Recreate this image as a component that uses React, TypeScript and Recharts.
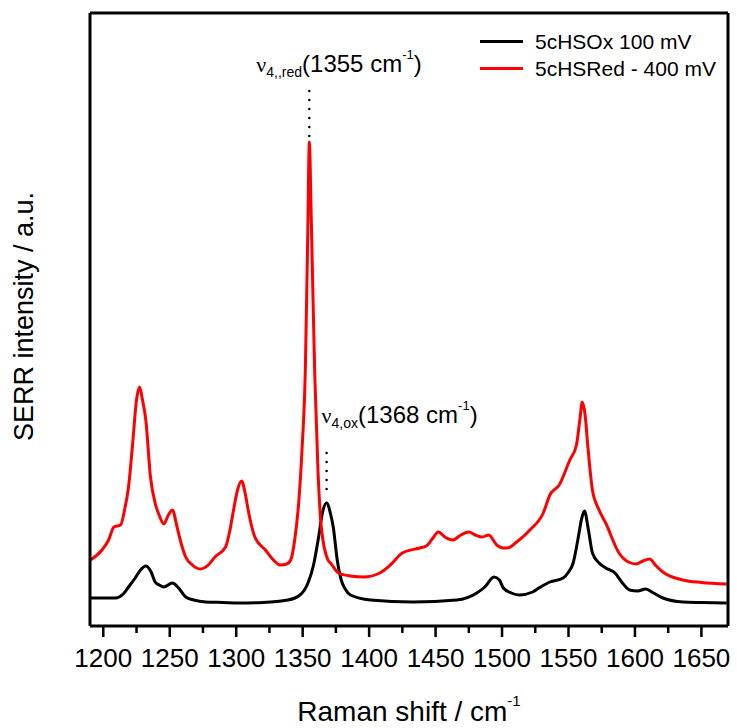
import React from 'react';
import { LineChart, Line, XAxis, YAxis, ReferenceLine, Legend } from 'recharts';

const FONT = '"Liberation Sans", Arial, sans-serif';

// Raman shift (cm-1) and intensity (a.u.)
const oxShift = [
  1190, 1200, 1209, 1215, 1219, 1224, 1228, 1232, 1236, 1239, 1242, 1245.5, 1252, 1256, 1262, 1268, 1277,
  1290, 1302, 1320, 1339, 1348, 1354, 1358, 1362, 1365, 1368, 1371, 1373, 1376, 1379, 1382, 1386, 1401,
  1433, 1466, 1481, 1487, 1494, 1498, 1501, 1507, 1513, 1523, 1529, 1536, 1546, 1550, 1553.5, 1557, 1560,
  1562, 1565, 1568, 1573, 1578, 1585, 1590, 1596, 1602, 1608, 1614, 1621, 1636, 1650, 1669,
];
const oxIntensity = [
  28, 28, 28, 32, 39, 48, 56, 60, 54, 44, 41, 39, 43, 39, 29, 26, 24,
  23.5, 23, 23.5, 26, 31, 43, 60, 89, 114, 123, 112, 99, 66, 46, 37, 31, 26,
  24, 26, 33, 39, 49, 46, 38, 33, 31, 34, 39, 44, 48, 54, 63, 86, 108,
  115, 96, 73, 63, 58, 53, 44, 36, 35, 37, 33, 28, 24, 23.5, 23,
];

const redShift = [
  1189, 1199, 1204, 1208, 1213, 1216, 1219, 1222, 1225, 1227.3, 1229.5, 1232, 1235.5, 1239, 1242, 1245.5,
  1249, 1252, 1255.5, 1258.5, 1262, 1267, 1273, 1279, 1284, 1292, 1295, 1298, 1301, 1304, 1307, 1309,
  1314, 1322, 1328, 1333, 1338, 1341, 1344, 1347, 1349.5, 1352, 1354, 1355, 1356.5, 1359, 1361.5, 1364,
  1369, 1371, 1377, 1386, 1396, 1408, 1416, 1425, 1438, 1443, 1448, 1452, 1457, 1463, 1469, 1475, 1480,
  1485, 1490, 1496, 1501, 1504, 1511, 1521, 1531, 1536, 1543, 1551, 1556, 1558.5, 1560.4, 1562.5, 1564.6,
  1568, 1573, 1578, 1588, 1595, 1601, 1606, 1611, 1616, 1621, 1636, 1650, 1669,
];
const redIntensity = [
  65, 76, 86, 99, 101, 116, 139, 181, 226, 239, 226, 206, 149, 123, 111, 102,
  111, 116, 99, 83, 69, 61, 57, 61, 69, 79, 94, 116, 136, 145, 131, 116,
  89, 76, 66, 61, 62, 66, 86, 123, 176, 256, 406, 484, 406, 256, 156, 99,
  66, 63, 53, 50, 49, 53, 61, 73, 78, 80, 88, 94, 89, 86, 91, 94, 91,
  89, 91, 81, 78, 78, 84, 96, 113, 131, 141, 166, 181, 206, 224, 211, 179,
  136, 116, 103, 73, 64, 62, 65, 67, 60, 54, 46, 43.5, 42,
];

const xTicks = [
  1200, 1225, 1250, 1275, 1300, 1325, 1350, 1375, 1400, 1425, 1450, 1475, 1500, 1525, 1550, 1575, 1600,
  1625, 1650,
];

const oxData = oxShift.map((x, i) => ({ x, y: oxIntensity[i] }));
const redData = redShift.map((x, i) => ({ x, y: redIntensity[i] }));

const X_DOMAIN: [number, number] = [1190, 1670];
const Y_DOMAIN: [number, number] = [0, 613];
const frame = { stroke: '#000', strokeWidth: 3 };

function RamanTick({ x, y, payload }: any) {
  const major = payload.value % 50 === 0;
  return (
    <g>
      <line x1={x} x2={x} y1={y} y2={y + (major ? 11 : 7)} stroke="#000" strokeWidth={2.5} />
      {major && (
        <text x={x} y={y + 41} textAnchor="middle" fontFamily={FONT} fontSize={26} fill="#000">
          {payload.value}
        </text>
      )}
    </g>
  );
}

function XTitle({ viewBox }: any) {
  return (
    <text x={viewBox.x + viewBox.width / 2} y={viewBox.y + 95} textAnchor="middle" fontFamily={FONT} fontSize={28} fill="#000">
      <tspan>Raman shift / cm</tspan>
      <tspan fontSize={15} dy={-15}>-1</tspan>
    </text>
  );
}

function YTitle({ viewBox }: any) {
  const cx = viewBox.x + viewBox.width - 57;
  const cy = viewBox.y + viewBox.height / 2 - 3;
  return (
    <text x={cx} y={cy} transform={`rotate(-90, ${cx}, ${cy})`} textAnchor="middle" fontFamily={FONT} fontSize={27} fill="#000">
      SERR intensity / a.u.
    </text>
  );
}

function PeakLabel({ viewBox, sub, value, dx, dy }: any) {
  return (
    <text x={viewBox.x + dx} y={viewBox.y + dy} fontFamily={FONT} fill="#000">
      <tspan fontFamily='"Liberation Serif", "Times New Roman", serif' fontSize={22}>ν</tspan>
      <tspan fontSize={14} dy={5}>{sub}</tspan>
      <tspan fontSize={24} dy={-5}>({value} cm</tspan>
      <tspan fontSize={13} dy={-13}>-1</tspan>
      <tspan fontSize={24} dy={13}>)</tspan>
    </text>
  );
}

function SeriesLegend({ payload }: any) {
  return (
    <div style={{ fontFamily: FONT, fontSize: 21, color: '#000' }}>
      {(payload || []).map((e: any) => (
        <div key={e.value} style={{ display: 'flex', alignItems: 'center', height: 27 }}>
          <span style={{ display: 'inline-block', width: 43, height: 3, background: e.color, marginRight: 12 }} />
          <span>{e.value}</span>
        </div>
      ))}
    </div>
  );
}

export default function App() {
  return (
    <div style={{ position: 'absolute', left: 0, top: 0, background: '#fff' }}>
      <LineChart width={737} height={728} margin={{ top: 12, right: 8, bottom: 0, left: 89 }}>
        <XAxis
          dataKey="x"
          type="number"
          domain={X_DOMAIN}
          allowDataOverflow
          ticks={xTicks}
          interval={0}
          tick={<RamanTick />}
          tickLine={false}
          tickSize={0}
          tickMargin={0}
          height={102}
          axisLine={frame}
          label={<XTitle />}
        />
        <XAxis xAxisId="top" orientation="top" type="number" domain={X_DOMAIN} allowDataOverflow height={1} tick={false} tickLine={false} axisLine={frame} />
        <YAxis type="number" domain={Y_DOMAIN} allowDataOverflow width={1} tick={false} tickLine={false} axisLine={frame} label={<YTitle />} />
        <YAxis yAxisId="right" orientation="right" type="number" domain={Y_DOMAIN} allowDataOverflow width={1} tick={false} tickLine={false} axisLine={frame} />
        <Legend
          layout="vertical"
          align="center"
          verticalAlign="middle"
          content={<SeriesLegend />}
          wrapperStyle={{ top: 28, left: 480, width: 'auto', height: 'auto' }}
        />
        <ReferenceLine
          segment={[{ x: 1355, y: 535 }, { x: 1355, y: 489 }]}
          stroke="#000"
          strokeWidth={2.5}
          strokeDasharray="0 9"
          strokeLinecap="round"
          label={<PeakLabel sub="4,,red" value={1355} dx={-53} dy={-19} />}
        />
        <ReferenceLine
          segment={[{ x: 1368, y: 173 }, { x: 1368, y: 128 }]}
          stroke="#000"
          strokeWidth={2.5}
          strokeDasharray="0 9"
          strokeLinecap="round"
          label={<PeakLabel sub="4,ox" value={1368} dx={-5} dy={-30} />}
        />
        <Line data={oxData} dataKey="y" name="5cHSOx 100 mV" type="monotone" stroke="#000" strokeWidth={3} dot={false} isAnimationActive={false} />
        <Line data={redData} dataKey="y" name="5cHSRed - 400 mV" type="monotone" stroke="#ff0000" strokeWidth={3} dot={false} isAnimationActive={false} />
      </LineChart>
    </div>
  );
}
